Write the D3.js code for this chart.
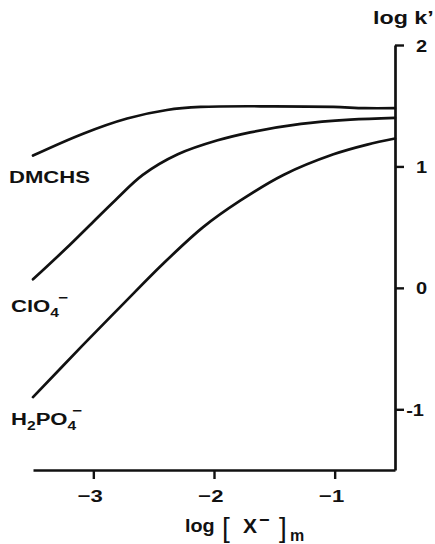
<!DOCTYPE html>
<html>
<head>
<meta charset="utf-8">
<script src="https://cdn.jsdelivr.net/npm/d3@7"></script>
<style>
  html, body { margin: 0; padding: 0; background: #fff; }
  svg { display: block; }
  text { font-family: "Liberation Sans", Arial, Helvetica, sans-serif; fill: #111; }
</style>
</head>
<body>
<svg id="chart" width="435" height="544"></svg>
<script>
// ---- data ----
const xTicks = [-3, -2, -1];
const yTicks = [-1, 0, 1, 2];

const dmchsX = [-3.5, -3.085, -2.72, -2.39, -2.11, -1.5, -1.01, -0.75, -0.5];
const dmchsY = [1.09, 1.27, 1.395, 1.465, 1.49, 1.495, 1.49, 1.48, 1.48];

const clo4X = [-3.5, -3.22, -3.0, -2.82, -2.59, -2.30, -1.97, -1.70, -1.28, -0.87, -0.5];
const clo4Y = [0.07, 0.33, 0.545, 0.72, 0.93, 1.10, 1.215, 1.28, 1.35, 1.385, 1.40];

const h2po4X = [-3.5, -3.085, -2.75, -2.42, -2.09, -1.78, -1.425, -1.01, -0.73, -0.5];
const h2po4Y = [-0.90, -0.47, -0.13, 0.20, 0.50, 0.72, 0.93, 1.10, 1.18, 1.23];

// ---- chart ----
const svg = d3.select("#chart");
const ink = "#111";

const x = d3.scaleLinear().domain([-3.5, -0.5]).range([33, 395]);
const y = d3.scaleLinear().domain([-1.5, 2]).range([470, 45]);

const line = d3.line()
  .x(d => x(d[0]))
  .y(d => y(d[1]))
  .curve(d3.curveCatmullRom.alpha(0.5));

const series = [
  d3.zip(dmchsX, dmchsY),
  d3.zip(clo4X, clo4Y),
  d3.zip(h2po4X, h2po4Y)
];

svg.append("g").selectAll("path")
  .data(series)
  .join("path")
  .attr("d", line)
  .attr("fill", "none")
  .attr("stroke", ink)
  .attr("stroke-width", 2.7)
  .attr("stroke-linecap", "round");

// y axis (right)
const yAxis = svg.append("g")
  .attr("transform", `translate(${x(-0.5)},0)`)
  .call(d3.axisRight(y).tickValues(yTicks).tickSize(9).tickSizeOuter(0)
    .tickFormat(d => d < 0 ? "-" + Math.abs(d) : String(d)));
yAxis.select(".domain").attr("stroke", ink).attr("stroke-width", 2.7);
yAxis.selectAll(".tick line").attr("stroke", ink).attr("stroke-width", 2.4);
yAxis.selectAll(".tick text")
  .attr("x", null).attr("dy", null)
  .attr("font-size", 16).attr("font-weight", "bold")
  .each(function(d) {
    const t = d3.select(this);
    if (d < 0) {
      t.attr("text-anchor", "end").attr("transform", "translate(29,6) scale(1.25,1)");
    } else {
      t.attr("text-anchor", "start").attr("transform", "translate(21,6) scale(1.25,1)");
    }
  });

// x axis (bottom)
const xAxis = svg.append("g")
  .attr("transform", `translate(0,${y(-1.5)})`)
  .call(d3.axisBottom(x).tickValues(xTicks).tickSize(9).tickSizeOuter(0)
    .tickFormat(d => "\u2212" + Math.abs(d)));
xAxis.select(".domain").attr("stroke", ink).attr("stroke-width", 2.7);
xAxis.selectAll(".tick line").attr("stroke", ink).attr("stroke-width", 2.4);
xAxis.selectAll(".tick text")
  .attr("y", null).attr("dy", null)
  .attr("text-anchor", "end")
  .attr("font-size", 17).attr("font-weight", "bold")
  .attr("transform", "translate(9,32) scale(1.3,1)");

// y axis title
svg.append("text")
  .attr("transform", "translate(373,24) scale(1.33,1)")
  .attr("font-size", 17.5).attr("font-weight", "bold")
  .text("log k\u2019");

// x axis title: log [X−]m
const xt = svg.append("g").attr("font-weight", "bold");
xt.append("text").attr("x", 185).attr("y", 532).attr("font-size", 18)
  .attr("transform", "translate(-18.5,0) scale(1.1,1)").text("log");
xt.append("text").attr("x", 222).attr("y", 537).attr("font-size", 28)
  .attr("font-weight", "normal").text("[");
xt.append("text").attr("x", 243).attr("y", 533).attr("font-size", 21).text("X");
xt.append("text").attr("x", 259).attr("y", 526).attr("font-size", 18).text("\u2212");
xt.append("text").attr("x", 279).attr("y", 537).attr("font-size", 28)
  .attr("font-weight", "normal").text("]");
xt.append("text").attr("x", 290).attr("y", 541).attr("font-size", 16).text("m");

// series labels
const lab = svg.append("g").attr("font-weight", "bold").attr("font-size", 17);

lab.append("text")
  .attr("transform", "translate(9,183) scale(1.3,1)")
  .text("DMCHS");

const c = lab.append("text").attr("transform", "translate(11,312) scale(1.3,1)");
c.append("tspan").text("ClO");
c.append("tspan").attr("font-size", 12).attr("dy", 5).text("4");
c.append("tspan").attr("font-size", 13).attr("dy", -15).attr("dx", -0.5).text("\u2212");

const h = lab.append("text").attr("transform", "translate(11,425) scale(1.3,1)");
h.append("tspan").text("H");
h.append("tspan").attr("font-size", 12).attr("dy", 5).text("2");
h.append("tspan").attr("dy", -5).text("PO");
h.append("tspan").attr("font-size", 12).attr("dy", 5).text("4");
h.append("tspan").attr("font-size", 13).attr("dy", -15).attr("dx", -3).text("\u2212");
</script>
</body>
</html>
